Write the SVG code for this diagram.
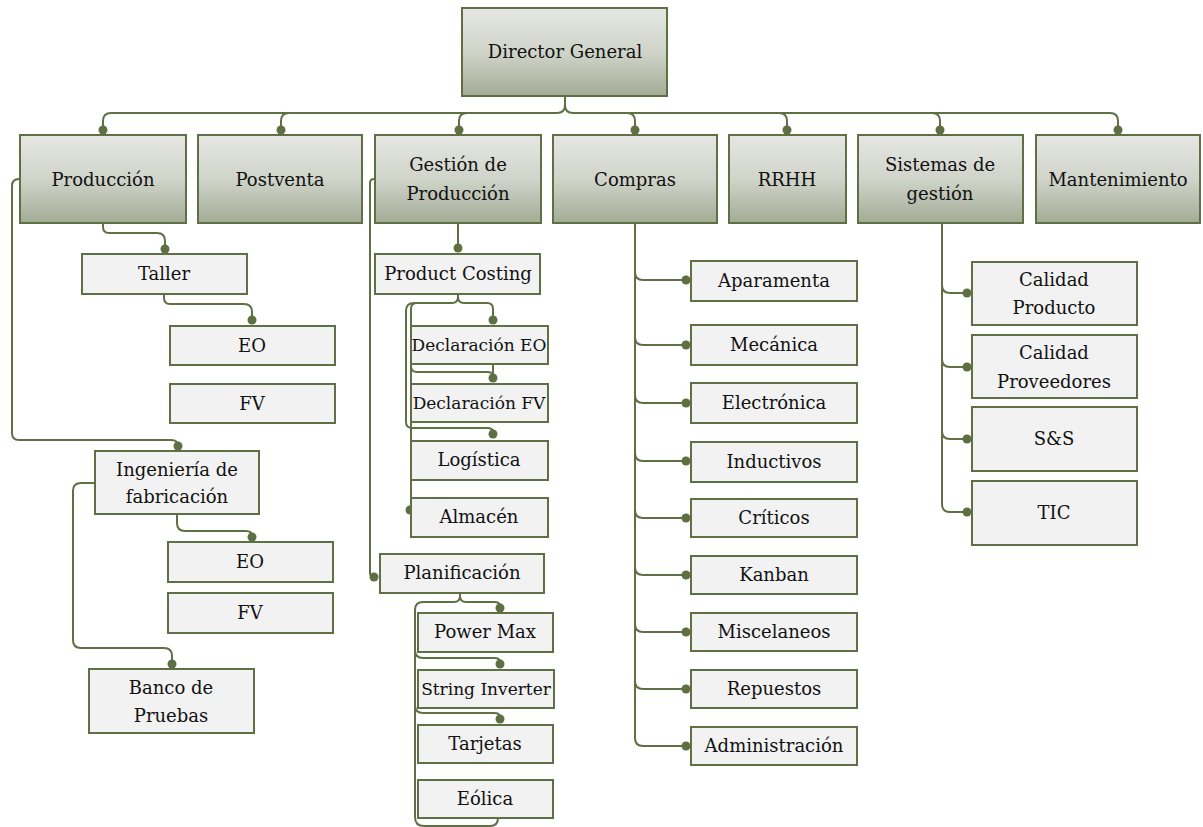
<svg xmlns="http://www.w3.org/2000/svg" width="1203" height="827" viewBox="0 0 1203 827">
  <defs>
    <linearGradient id="hdFill" x1="0" y1="0" x2="0" y2="1">
      <stop offset="0" stop-color="#e6e7e3"/>
      <stop offset="0.5" stop-color="#d0d4ca"/>
      <stop offset="1" stop-color="#a3ac95"/>
    </linearGradient>
  </defs>
  <style>
    .hd { fill: url(#hdFill); stroke: #5f7044; stroke-width: 2; }
    .bx { fill: #f2f2f2; stroke: #5f7044; stroke-width: 2; }
    .t { font-family: "DejaVu Serif", serif; font-size: 18px; fill: #111; text-anchor: middle; }
    .sm { font-size: 17px; }
    .ln { fill: none; stroke: #5f7044; stroke-width: 2; }
    .dot { fill: #5e6f42; }
  </style>
  <rect width="1203" height="827" fill="#ffffff"/>

  <!-- connectors -->
  <g id="connectors">
    <!-- top level bus -->
    <path class="ln" d="M565,96 V105 Q565,113 557,113 H111 Q103,113 103,121 V129"/>
    <path class="ln" d="M557,113 H289 Q281,113 281,121 V129"/>
    <path class="ln" d="M557,113 H467 Q459,113 459,121 V129"/>
    <path class="ln" d="M565,105 Q565,113 573,113 H1110 Q1118,113 1118,121 V129"/>
    <path class="ln" d="M573,113 H627 Q635,113 635,121 V129"/>
    <path class="ln" d="M573,113 H779 Q787,113 787,121 V129"/>
    <path class="ln" d="M573,113 H932 Q940,113 940,121 V129"/>
    <circle class="dot" cx="103" cy="130" r="4.5"/>
    <circle class="dot" cx="281" cy="130" r="4.5"/>
    <circle class="dot" cx="459" cy="130" r="4.5"/>
    <circle class="dot" cx="635" cy="130" r="4.5"/>
    <circle class="dot" cx="787" cy="130" r="4.5"/>
    <circle class="dot" cx="940" cy="130" r="4.5"/>
    <circle class="dot" cx="1118" cy="130" r="4.5"/>

    <!-- Producción branch -->
    <path class="ln" d="M103,223 V227 Q103,233 109,233 H157 Q165,233 165,241 V249"/>
    <circle class="dot" cx="165" cy="249" r="4.5"/>
    <path class="ln" d="M164,294 V298 Q164,304 170,304 H244 Q252,304 252,312 V320"/>
    <circle class="dot" cx="252" cy="320" r="4.5"/>
    <path class="ln" d="M20,179 H19 Q12,179 12,186 V433 Q12,440 19,440 H171 Q178,440 178,446"/>
    <circle class="dot" cx="178" cy="446" r="4.5"/>
    <path class="ln" d="M177,514 V523 Q177,531 185,531 H246 Q252,531 252,536"/>
    <circle class="dot" cx="252" cy="537" r="4.5"/>
    <path class="ln" d="M95,483 H81 Q73,483 73,491 V640 Q73,648 81,648 H164 Q172,648 172,656 V664"/>
    <circle class="dot" cx="172" cy="664" r="4.5"/>

    <!-- Gestión de Producción branch -->
    <path class="ln" d="M458,223 V248"/>
    <circle class="dot" cx="458" cy="248" r="4.5"/>
    <path class="ln" d="M375,179 H374 Q370,179 370,183 V573 Q370,577 374,577"/>
    <circle class="dot" cx="374" cy="577" r="4.5"/>
    <path class="ln" d="M458,294 V297 Q458,303 464,303 H487 Q493,303 493,309 V320"/>
    <circle class="dot" cx="493" cy="320" r="4.5"/>
    <path class="ln" d="M458,297 Q458,303 452,303 H417 Q411,303 411,309 V366 Q411,372 417,372 H487 Q493,372 493,376"/>
    <path class="ln" d="M493,364 V378"/>
    <circle class="dot" cx="493" cy="378" r="4.5"/>
    <path class="ln" d="M452,303 H414 Q406,303 406,311 V422 Q406,428 412,428 H487 Q493,428 493,432"/>
    <circle class="dot" cx="493" cy="434" r="4.5"/>
    <path class="ln" d="M411,366 V510"/>
    <circle class="dot" cx="410" cy="510" r="4.5"/>
    <path class="ln" d="M460,593 V596 Q460,602 466,602 H494 Q500,602 500,606"/>
    <circle class="dot" cx="500" cy="608" r="4.5"/>
    <path class="ln" d="M460,596 Q460,602 454,602 H423 Q415,602 415,610 V650 Q415,658 423,658 H494 Q500,658 500,662"/>
    <circle class="dot" cx="500" cy="664" r="4.5"/>
    <path class="ln" d="M415,650 V705 Q415,713 423,713 H494 Q500,713 500,717"/>
    <circle class="dot" cx="500" cy="719" r="4.5"/>
    <path class="ln" d="M415,705 V817 Q415,826 424,826 H490 Q498,826 498,818"/>

    <!-- Compras branch -->
    <path class="ln" d="M635,223 V738 Q635,746 643,746 H686"/>
    <path class="ln" d="M635,272 Q635,280 643,280 H686"/>
    <path class="ln" d="M635,337 Q635,345 643,345 H686"/>
    <path class="ln" d="M635,395 Q635,403 643,403 H686"/>
    <path class="ln" d="M635,453 Q635,461 643,461 H686"/>
    <path class="ln" d="M635,510 Q635,518 643,518 H686"/>
    <path class="ln" d="M635,567 Q635,575 643,575 H686"/>
    <path class="ln" d="M635,624 Q635,632 643,632 H686"/>
    <path class="ln" d="M635,681 Q635,689 643,689 H686"/>
    <circle class="dot" cx="686" cy="280" r="4.5"/>
    <circle class="dot" cx="686" cy="345" r="4.5"/>
    <circle class="dot" cx="686" cy="403" r="4.5"/>
    <circle class="dot" cx="686" cy="461" r="4.5"/>
    <circle class="dot" cx="686" cy="518" r="4.5"/>
    <circle class="dot" cx="686" cy="575" r="4.5"/>
    <circle class="dot" cx="686" cy="632" r="4.5"/>
    <circle class="dot" cx="686" cy="689" r="4.5"/>
    <circle class="dot" cx="686" cy="746" r="4.5"/>

    <!-- Sistemas de gestión branch -->
    <path class="ln" d="M942,223 V504 Q942,512 950,512 H967"/>
    <path class="ln" d="M942,285 Q942,293 950,293 H967"/>
    <path class="ln" d="M942,359 Q942,367 950,367 H967"/>
    <path class="ln" d="M942,431 Q942,439 950,439 H967"/>
    <circle class="dot" cx="967" cy="293" r="4.5"/>
    <circle class="dot" cx="967" cy="367" r="4.5"/>
    <circle class="dot" cx="967" cy="439" r="4.5"/>
    <circle class="dot" cx="967" cy="512" r="4.5"/>
  </g>

  <!-- top -->
  <g id="director-general">
    <rect class="hd" x="462" y="8" width="205" height="88"/>
    <text class="t" x="565" y="58">Director General</text>
  </g>

  <!-- first level -->
  <g id="produccion">
    <rect class="hd" x="20" y="135" width="166" height="88"/>
    <text class="t" x="103" y="186">Producción</text>
  </g>
  <g id="postventa">
    <rect class="hd" x="198" y="135" width="164" height="88"/>
    <text class="t" x="280" y="186">Postventa</text>
  </g>
  <g id="gestion-produccion">
    <rect class="hd" x="375" y="135" width="166" height="88"/>
    <text class="t" x="458" y="171">Gestión de</text>
    <text class="t" x="458" y="200">Producción</text>
  </g>
  <g id="compras">
    <rect class="hd" x="553" y="135" width="164" height="88"/>
    <text class="t" x="635" y="186">Compras</text>
  </g>
  <g id="rrhh">
    <rect class="hd" x="729" y="135" width="117" height="88"/>
    <text class="t" x="787" y="186">RRHH</text>
  </g>
  <g id="sistemas-gestion">
    <rect class="hd" x="858" y="135" width="165" height="88"/>
    <text class="t" x="940" y="171">Sistemas de</text>
    <text class="t" x="940" y="200">gestión</text>
  </g>
  <g id="mantenimiento">
    <rect class="hd" x="1036" y="135" width="164" height="88"/>
    <text class="t" x="1118" y="186">Mantenimiento</text>
  </g>

  <!-- Producción -->
  <g id="taller">
    <rect class="bx" x="82" y="254" width="165" height="40"/>
    <text class="t" x="164" y="280">Taller</text>
  </g>
  <g id="taller-eo">
    <rect class="bx" x="170" y="326" width="165" height="39"/>
    <text class="t" x="252" y="352">EO</text>
  </g>
  <g id="taller-fv">
    <rect class="bx" x="170" y="384" width="165" height="39"/>
    <text class="t" x="252" y="410">FV</text>
  </g>
  <g id="ingenieria">
    <rect class="bx" x="95" y="451" width="164" height="63"/>
    <text class="t" x="177" y="476">Ingeniería de</text>
    <text class="t" x="177" y="503">fabricación</text>
  </g>
  <g id="ingenieria-eo">
    <rect class="bx" x="168" y="542" width="165" height="40"/>
    <text class="t" x="250" y="568">EO</text>
  </g>
  <g id="ingenieria-fv">
    <rect class="bx" x="168" y="593" width="165" height="40"/>
    <text class="t" x="250" y="619">FV</text>
  </g>
  <g id="banco-pruebas">
    <rect class="bx" x="89" y="669" width="165" height="64"/>
    <text class="t" x="171" y="694">Banco de</text>
    <text class="t" x="171" y="722">Pruebas</text>
  </g>

  <!-- Gestión de Producción -->
  <g id="product-costing">
    <rect class="bx" x="375" y="254" width="165" height="40"/>
    <text class="t" x="458" y="280">Product Costing</text>
  </g>
  <g id="declaracion-eo">
    <rect class="bx" x="411" y="326" width="137" height="38"/>
    <text class="t sm" x="479" y="351">Declaración EO</text>
  </g>
  <g id="declaracion-fv">
    <rect class="bx" x="411" y="384" width="137" height="38"/>
    <text class="t sm" x="479" y="409">Declaración FV</text>
  </g>
  <g id="logistica">
    <rect class="bx" x="411" y="441" width="137" height="39"/>
    <text class="t" x="479" y="466">Logística</text>
  </g>
  <g id="almacen">
    <rect class="bx" x="411" y="498" width="137" height="39"/>
    <text class="t" x="479" y="523">Almacén</text>
  </g>
  <g id="planificacion">
    <rect class="bx" x="380" y="554" width="164" height="39"/>
    <text class="t" x="462" y="579">Planificación</text>
  </g>
  <g id="power-max">
    <rect class="bx" x="418" y="613" width="135" height="39"/>
    <text class="t" x="485" y="638">Power Max</text>
  </g>
  <g id="string-inverter">
    <rect class="bx" x="418" y="670" width="136" height="38"/>
    <text class="t sm" x="486" y="695">String Inverter</text>
  </g>
  <g id="tarjetas">
    <rect class="bx" x="418" y="725" width="135" height="38"/>
    <text class="t" x="485" y="750">Tarjetas</text>
  </g>
  <g id="eolica">
    <rect class="bx" x="418" y="780" width="135" height="38"/>
    <text class="t" x="485" y="805">Eólica</text>
  </g>

  <!-- Compras -->
  <g id="aparamenta">
    <rect class="bx" x="691" y="261" width="166" height="40"/>
    <text class="t" x="774" y="287">Aparamenta</text>
  </g>
  <g id="mecanica">
    <rect class="bx" x="691" y="325" width="166" height="40"/>
    <text class="t" x="774" y="351">Mecánica</text>
  </g>
  <g id="electronica">
    <rect class="bx" x="691" y="383" width="166" height="40"/>
    <text class="t" x="774" y="409">Electrónica</text>
  </g>
  <g id="inductivos">
    <rect class="bx" x="691" y="442" width="166" height="40"/>
    <text class="t" x="774" y="468">Inductivos</text>
  </g>
  <g id="criticos">
    <rect class="bx" x="691" y="499" width="166" height="38"/>
    <text class="t" x="774" y="524">Críticos</text>
  </g>
  <g id="kanban">
    <rect class="bx" x="691" y="556" width="166" height="38"/>
    <text class="t" x="774" y="581">Kanban</text>
  </g>
  <g id="miscelaneos">
    <rect class="bx" x="691" y="613" width="166" height="38"/>
    <text class="t" x="774" y="638">Miscelaneos</text>
  </g>
  <g id="repuestos">
    <rect class="bx" x="691" y="670" width="166" height="38"/>
    <text class="t" x="774" y="695">Repuestos</text>
  </g>
  <g id="administracion">
    <rect class="bx" x="691" y="727" width="166" height="38"/>
    <text class="t" x="774" y="752">Administración</text>
  </g>

  <!-- Sistemas de gestión -->
  <g id="calidad-producto">
    <rect class="bx" x="972" y="262" width="165" height="63"/>
    <text class="t" x="1054" y="286">Calidad</text>
    <text class="t" x="1054" y="314">Producto</text>
  </g>
  <g id="calidad-proveedores">
    <rect class="bx" x="972" y="335" width="165" height="63"/>
    <text class="t" x="1054" y="359">Calidad</text>
    <text class="t" x="1054" y="388">Proveedores</text>
  </g>
  <g id="ss">
    <rect class="bx" x="972" y="407" width="165" height="64"/>
    <text class="t" x="1054" y="445">S&amp;S</text>
  </g>
  <g id="tic">
    <rect class="bx" x="972" y="481" width="165" height="64"/>
    <text class="t" x="1054" y="519">TIC</text>
  </g>
</svg>
